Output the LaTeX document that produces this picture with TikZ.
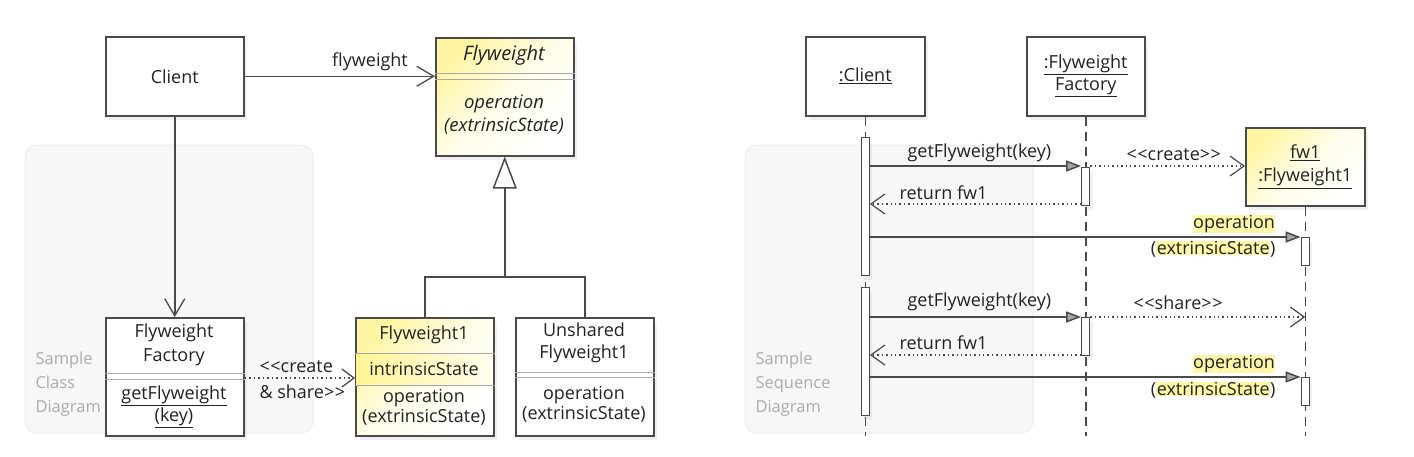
\documentclass[tikz,border=0pt]{standalone}
\usepackage{fontspec}
\setmainfont{Open Sans}
\usetikzlibrary{arrows.meta,shadows}
\definecolor{ln}{HTML}{4A4A4A}
\definecolor{sepc}{HTML}{A8A8A8}
\definecolor{fwy}{HTML}{FFF38A}
\definecolor{hly}{HTML}{FFF7A8}
\definecolor{bgc}{HTML}{F7F7F7}
\definecolor{bgl}{HTML}{ECECEC}
\definecolor{txt}{HTML}{222222}
\definecolor{smp}{HTML}{ABABAB}
\newcommand\fs{\fontsize{18}{21}\selectfont}
\newcommand\stlt{<\kern0.6pt<}
\newcommand\stgt{>\kern0.6pt>}
\newcommand\hlt[1]{{\setlength\fboxsep{0.5pt}\colorbox{hly}{#1}}}
\begin{document}
\begin{tikzpicture}[x=1pt,y=-1pt,
  every node/.style={font=\fs, text=txt},
  panel/.style={draw=bgl, fill=bgc, rounded corners=12pt, line width=1pt},
  smpl/.style={text=smp, align=left, anchor=west, font=\fontsize{16.5}{24}\selectfont},
  box/.style={draw=ln, line width=1.5pt, fill=white, inner sep=0pt, anchor=north west,
    drop shadow={opacity=0.12, shadow xshift=3pt, shadow yshift=-4pt}},
  ybox/.style={box, top color=fwy!78, bottom color=white, middle color=fwy!18, shading angle=45},
  sepl/.style={draw=sepc, line width=1pt},
  assoc/.style={draw=ln, line width=1.5pt, -{Straight Barb[length=17pt,width=20pt,line width=1.3pt]}},
  dep/.style={draw=ln, line width=1.5pt, dash pattern=on 1.5pt off 3pt, -{Straight Barb[length=12pt,width=18pt,line width=1.3pt]}},
  gen/.style={draw=ln, line width=1.5pt},
  msg/.style={draw=ln, line width=1.5pt, -{Triangle[length=15pt,width=11pt,fill=gray!70]}},
  ret/.style={draw=ln, line width=1.4pt, dash pattern=on 1.4pt off 3pt, -{Straight Barb[length=14pt,width=20pt,line width=1.2pt]}},
  life/.style={draw=ln, line width=1.5pt, dash pattern=on 9pt off 6pt},
  act/.style={draw=ln, line width=1.3pt, fill=white, minimum width=8pt, inner sep=0pt, anchor=north,
    drop shadow={opacity=0.12, shadow xshift=3pt, shadow yshift=-4pt}},
  ml/.style={align=center, font=\fontsize{18}{22}\selectfont}
]
\useasboundingbox (0,0) rectangle (1414,456);
% ---------- panels ----------
\draw[panel] (25,145) rectangle (313,433);
\node[smpl] (smpC) at (32,384) {Sample\\Class\\Diagram};
\draw[panel] (745,145) rectangle (1033,433);
\node[smpl] (smpS) at (752,384) {Sample\\Sequence\\Diagram};
% ---------- class diagram ----------
\node[box, minimum width=138pt, minimum height=79pt] (client) at (105,36) {};
\node (clientT) at (client.center) {Client};
\node[ybox, minimum width=138pt, minimum height=118pt] (fw) at (435,37) {};
\draw[sepl] (fw.west |- 0,73) -- (fw.east |- 0,73);
\draw[sepl] (fw.west |- 0,79) -- (fw.east |- 0,79);
\node[font=\fontsize{20}{22}\selectfont\itshape] (fwT) at (504,55) {Flyweight};
\node[ml, font=\fontsize{18.5}{23}\selectfont\itshape] (fwO) at (504,114.5) {operation\\(extrinsicState)};
\node[box, minimum width=138pt, minimum height=118pt] (fac) at (105,317) {};
\draw[sepl] (fac.west |- 0,373) -- (fac.east |- 0,373);
\draw[sepl] (fac.west |- 0,379) -- (fac.east |- 0,379);
\node[ml, font=\fontsize{18}{24}\selectfont] (facT) at (174,345) {Flyweight\\Factory};
\node[ml] (facO) at (174,407) {\underline{getFlyweight}\\\underline{(key)}};
\node[ybox, minimum width=138pt, minimum height=118pt] (fw1) at (355,317) {};
\fill[left color=fwy!90, right color=fwy!15] (356,354) rectangle (492,384);
\draw[sepl] (fw1.west |- 0,353) -- (fw1.east |- 0,353);
\draw[sepl] (fw1.west |- 0,385) -- (fw1.east |- 0,385);
\node (fw1T) at (424,335) {Flyweight1};
\node (fw1A) at (424,369) {intrinsicState};
\node[ml, font=\fontsize{18}{20}\selectfont] (fw1O) at (424,407) {operation\\(extrinsicState)};
\node[box, minimum width=138pt, minimum height=118pt] (un) at (515,317) {};
\draw[sepl] (un.west |- 0,372) -- (un.east |- 0,372);
\draw[sepl] (un.west |- 0,377) -- (un.east |- 0,377);
\node[ml] (unT) at (584,343) {Unshared\\Flyweight1};
\node[ml, font=\fontsize{18}{20}\selectfont] (unO) at (584,404) {operation\\(extrinsicState)};
% connectors
\draw[assoc] (client.east) -- (client.east -| fw.west);
\node (flbl) at (370,62) {flyweight};
\draw[assoc] (client.south) -- (fac.north);
\coordinate (gj) at (fw.south |- 0,277);
\draw[gen] (fw1.north) |- (gj) -| (un.north);
\draw[gen, -{Triangle[open, length=32pt, width=24pt, line width=1.5pt, fill=white]}] (gj) -- (fw.south);
\draw[dep] (fac.east |- 0,378) -- (fw1.west |- 0,378);
\node[anchor=west] (dl1) at (256,367) {\stlt create};
\node[anchor=west] (dl2) at (256,392) {\& share\stgt};
% ---------- sequence diagram ----------
\node[box, minimum width=119pt, minimum height=79pt] (sc) at (805,36) {};
\node (scT) at (sc.center) {\underline{:Client}};
\node[box, minimum width=118pt, minimum height=79pt] (sf) at (1026,36) {};
\node[ml] (sfT) at (sf.center) {\underline{:Flyweight}\\\underline{Factory}};
\node[ybox, minimum width=119pt, minimum height=78pt] (sw) at (1245,127) {};
\node[ml, font=\fontsize{18}{23}\selectfont] (swT) at (sw.center) {\underline{fw1}\\\underline{:Flyweight1}};
\coordinate (scE) at (sc.south |- 0,436);
\coordinate (sfE) at (sf.south |- 0,436);
\coordinate (swE) at (sw.south |- 0,436);
\draw[life] (sc.south) -- (scE);
\draw[life] (sf.south) -- (sfE);
\draw[life] (sw.south) -- (swE);
\node[act, minimum height=138pt] (ca1) at (sc.south |- 0,137) {};
\node[act, minimum height=128pt] (ca2) at (sc.south |- 0,287) {};
\node[act, minimum height=38pt] (fa1) at (sf.south |- 0,167) {};
\node[act, minimum height=38pt] (fa2) at (sf.south |- 0,317) {};
\node[act, minimum height=28pt] (wa1) at (sw.south |- 0,237) {};
\node[act, minimum height=28pt] (wa2) at (sw.south |- 0,377) {};
% messages
\draw[msg] (ca1.east |- 0,166) -- (fa1.west |- 0,166);
\node[anchor=west] (m1) at (904,153) {getFlyweight(key)};
\draw[ret] (fa1.east |- 0,166) -- (sw.west |- 0,166);
\node[anchor=west] (m2) at (1123,155) {\stlt create\stgt};
\draw[ret] (fa1.west |- 0,204) -- (ca1.east |- 0,204);
\node[anchor=west] (m3) at (896,193) {return fw1};
\draw[msg] (ca1.east |- 0,237) -- (wa1.west |- 0,237);
\node[anchor=east] (m4a) at (1279,224) {\hlt{operation}};
\node[anchor=east] (m4b) at (1279,249) {(\hlt{extrinsicState})};
\draw[msg] (ca2.east |- 0,317) -- (fa2.west |- 0,317);
\node[anchor=west] (m5) at (904,302) {getFlyweight(key)};
\draw[ret] (fa2.east |- 0,317) -- (sw.south |- 0,317);
\node[anchor=west] (m6) at (1130,303) {\stlt share\stgt};
\draw[ret] (fa2.west |- 0,355) -- (ca2.east |- 0,355);
\node[anchor=west] (m7) at (896,343) {return fw1};
\draw[msg] (ca2.east |- 0,377) -- (wa2.west |- 0,377);
\node[anchor=east] (m8a) at (1279,364) {\hlt{operation}};
\node[anchor=east] (m8b) at (1279,390) {(\hlt{extrinsicState})};
\end{tikzpicture}
\end{document}
